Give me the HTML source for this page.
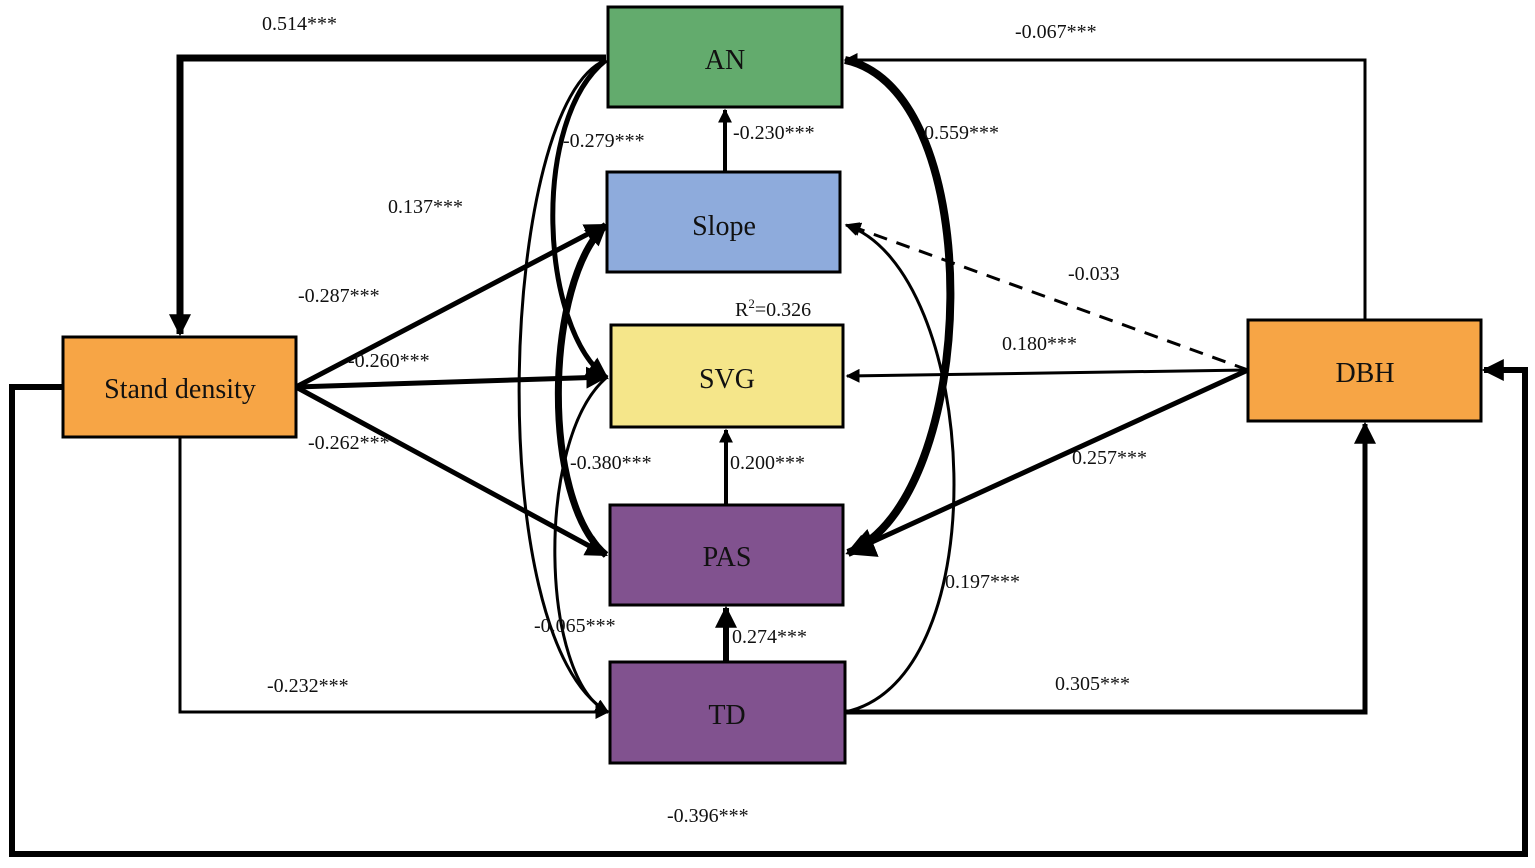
<!DOCTYPE html>
<html><head><style>
body{margin:0;background:#fff}
svg text{font-family:"Liberation Serif",serif}
</style></head><body>
<svg width="1535" height="863" viewBox="0 0 1535 863" xmlns="http://www.w3.org/2000/svg">
<defs>
<marker id="a" viewBox="0 0 10 10" refX="9" refY="5" markerWidth="5" markerHeight="5" markerUnits="userSpaceOnUse" orient="auto" style="overflow:visible"><path d="M0,0 L10,5 L0,10z" fill="#000"/></marker>
<marker id="m" viewBox="0 0 10 10" refX="9" refY="5" markerWidth="14" markerHeight="14" markerUnits="userSpaceOnUse" orient="auto"><path d="M0,0 L10,5 L0,10z" fill="#000"/></marker>
<marker id="b" viewBox="0 0 10 10" refX="9" refY="5" markerWidth="22" markerHeight="22" markerUnits="userSpaceOnUse" orient="auto"><path d="M0,0 L10,5 L0,10z" fill="#000"/></marker>
<marker id="c" viewBox="0 0 10 10" refX="9" refY="5" markerWidth="30" markerHeight="30" markerUnits="userSpaceOnUse" orient="auto"><path d="M0,0 L10,5 L0,10z" fill="#000"/></marker>
</defs>
<g fill="none" stroke="#000">
<!-- AN -> Stand density -->
<path d="M606,58 H180 V334" stroke-width="7" marker-end="url(#b)"/>
<!-- DBH -> AN -->
<path d="M1365,320 V60 H845" stroke-width="3" marker-end="url(#m)"/>
<!-- Stand density -> TD -->
<path d="M180,437 V712 H608" stroke-width="3" marker-end="url(#m)"/>
<!-- TD -> DBH -->
<path d="M845,712 H1365 V424" stroke-width="5" marker-end="url(#b)"/>
<!-- Stand density -> DBH big loop -->
<path d="M63,387 H12 V854 H1525 V370 H1484" stroke-width="6" marker-end="url(#b)"/>
<!-- Slope -> AN -->
<path d="M725,172 V110" stroke-width="4" marker-end="url(#m)"/>
<path d="M726,505 V430" stroke-width="4" marker-end="url(#m)"/>
<path d="M726,662 V608" stroke-width="6" marker-end="url(#b)"/>
<!-- SD straight -->
<path d="M296,387 L605,225" stroke-width="5" marker-end="url(#b)"/>
<path d="M296,387 L606,377" stroke-width="5" marker-end="url(#b)"/>
<path d="M296,387 L606,555" stroke-width="5" marker-end="url(#b)"/>
<!-- DBH straight -->
<path d="M1248,370 L847,376" stroke-width="3" marker-end="url(#m)"/>
<path d="M1248,370 L848,553" stroke-width="5" marker-end="url(#b)"/>
<path d="M1248,370 L848,225" stroke-width="3" stroke-dasharray="14,10" marker-end="url(#m)"/>
<!-- left curves -->
<path d="M606,60 C500,100 480,640 608,712" stroke-width="3" marker-end="url(#m)"/>
<path d="M606,60 C530,120 540,330 607,378" stroke-width="5" marker-end="url(#b)"/>
<path d="M606,555 C540,500 545,280 606,225" stroke-width="7" marker-end="url(#b)"/>
<path d="M606,378 C535,440 540,680 608,712" stroke-width="3" marker-end="url(#m)"/>
<!-- right curves -->
<path d="M845,60 C990,90 980,500 848,553" stroke-width="8" marker-end="url(#c)"/>
<path d="M845,712 C1000,680 980,270 846,225" stroke-width="3" marker-end="url(#m)"/>
</g>
<g stroke="#000" stroke-width="3">
<rect x="608" y="7" width="234" height="100" fill="#63ab6d"/>
<rect x="607" y="172" width="233" height="100" fill="#8eabdc"/>
<rect x="611" y="325" width="232" height="102" fill="#f5e68a"/>
<rect x="610" y="505" width="233" height="100" fill="#81528f"/>
<rect x="610" y="662" width="235" height="101" fill="#81528f"/>
<rect x="63" y="337" width="233" height="100" fill="#f7a545"/>
<rect x="1248" y="320" width="233" height="101" fill="#f7a545"/>
</g>
<g font-size="28" text-anchor="middle" fill="#111">
<text x="725" y="69">AN</text>
<text x="724" y="235">Slope</text>
<text x="727" y="388">SVG</text>
<text x="727" y="566">PAS</text>
<text x="727" y="724">TD</text>
<text x="180" y="398">Stand density</text>
<text x="1365" y="382">DBH</text>
</g>
<g font-size="20" fill="#111">
<text x="262" y="30">0.514***</text>
<text x="1015" y="38">-0.067***</text>
<text x="563" y="147">-0.279***</text>
<text x="733" y="139">-0.230***</text>
<text x="924" y="139">0.559***</text>
<text x="388" y="213">0.137***</text>
<text x="1068" y="280">-0.033</text>
<text x="298" y="302">-0.287***</text>
<text x="735" y="316">R<tspan font-size="13" dy="-8">2</tspan><tspan dy="8">=0.326</tspan></text>
<text x="1002" y="350">0.180***</text>
<text x="348" y="367">-0.260***</text>
<text x="308" y="449">-0.262***</text>
<text x="570" y="469">-0.380***</text>
<text x="730" y="469">0.200***</text>
<text x="1072" y="464">0.257***</text>
<text x="945" y="588">0.197***</text>
<text x="534" y="632">-0.065***</text>
<text x="732" y="643">0.274***</text>
<text x="267" y="692">-0.232***</text>
<text x="1055" y="690">0.305***</text>
<text x="667" y="822">-0.396***</text>
</g>
</svg>
</body></html>
